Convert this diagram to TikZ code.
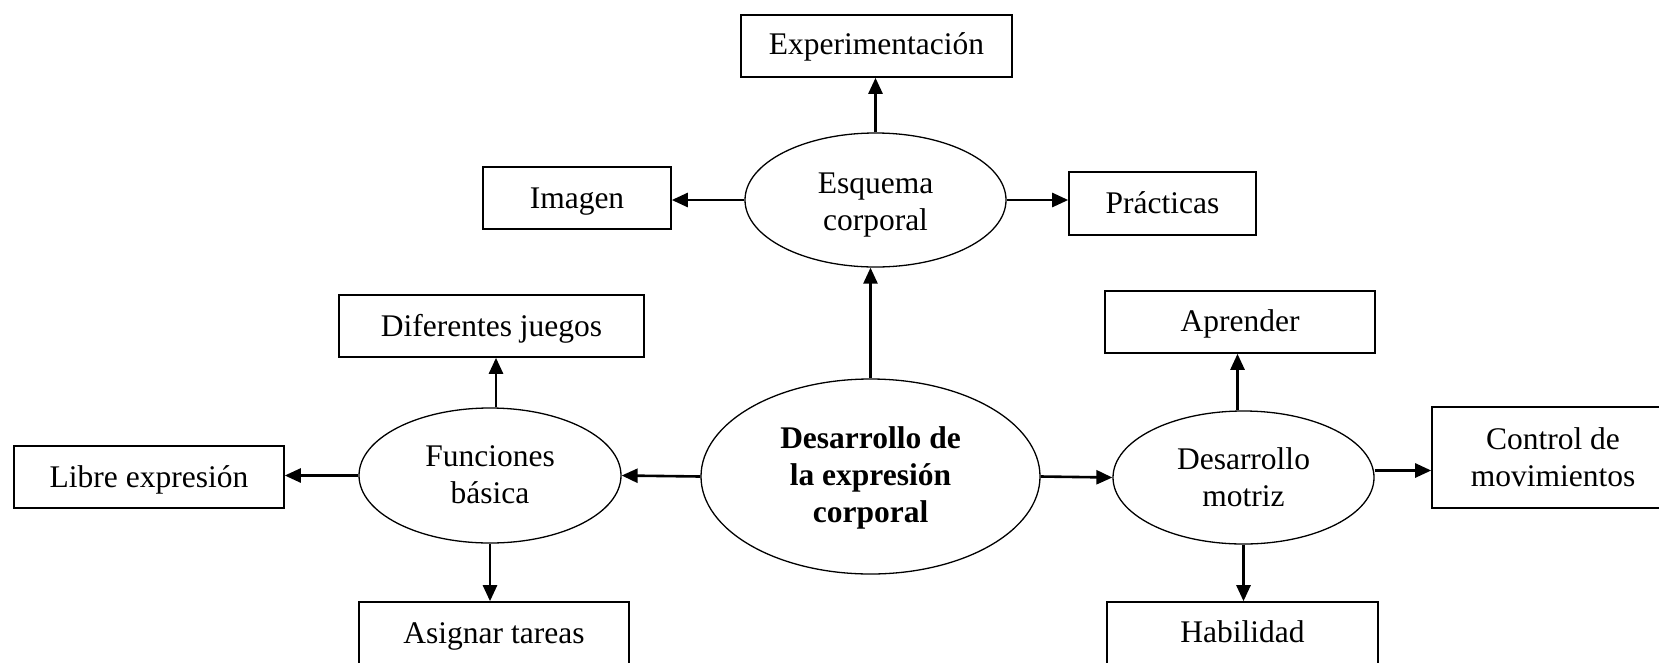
\documentclass[tikz,border=0pt]{standalone}
\usepackage{fontspec}
\setmainfont{Liberation Serif}
\usetikzlibrary{shapes.geometric,arrows.meta}
\newcommand\dn[2][3pt]{\raisebox{-#1}[\height][\depth]{\begin{tabular}{@{}c@{}}#2\end{tabular}}}
\begin{document}
\begin{tikzpicture}[x=1pt,y=-1pt,
  txt/.style={font=\fontsize{31.5}{37}\selectfont, align=center, inner sep=0pt},
  box/.style={txt, draw, line width=1.6pt, rectangle, minimum height=62pt},
  oval/.style={txt, draw, line width=1.3pt, ellipse},
  arr/.style={line width=2.6pt, -{Triangle[length=16pt,width=14pt]}}]
\useasboundingbox (0,0) rectangle (1659,662);
\begin{scope}
\clip (0,0) rectangle (1659,662);
% nodes
\node[box, minimum width=271pt] (exp) at (876.5,46) {\dn[1pt]{Experimentación}};
\node[oval, minimum width=261pt, minimum height=134pt] (esq) at (875.5,200) {\dn[5pt]{Esquema\\corporal}};
\node[box, minimum width=188pt] (img) at (577,198) {\dn{Imagen}};
\node[box, minimum width=187pt, minimum height=63pt] (prac) at (1162.5,203.5) {\dn[3pt]{Prácticas}};
\node[box, minimum width=305pt] (dif) at (491.5,326) {\dn{Diferentes juegos}};
\node[oval, minimum width=262pt, minimum height=135pt] (fun) at (490,475.5) {\dn[2pt]{Funciones\\básica}};
\node[box, minimum width=270pt] (lib) at (149,477) {\dn{Libre expresión}};
\node[box, minimum width=270pt] (asig) at (494,633) {\dn{Asignar tareas}};
\node[oval, minimum width=339pt, minimum height=195pt, font=\fontsize{31.5}{37}\selectfont\bfseries] (cen) at (870.5,476.5) {\dn[2pt]{Desarrollo de\\la expresión\\corporal}};
\node[oval, minimum width=261pt, minimum height=133pt] (mot) at (1243.5,477.5) {\dn[3pt]{Desarrollo\\motriz}};
\node[box, minimum width=270pt] (apr) at (1240,322) {\dn[2pt]{Aprender}};
\node[box, minimum width=242pt, minimum height=101pt] (ctl) at (1553,457.5) {\dn[3pt]{Control de\\movimientos}};
\node[box, minimum width=271pt] (hab) at (1242.5,633) {\dn[2pt]{Habilidad}};
% connectors
\draw[arr] (esq.north) -- (esq.north |- exp.south);
\draw[arr] (esq.west) -- (esq.west -| img.east);
\draw[arr] (esq.east) -- (esq.east -| prac.west);
\draw[arr] (cen.north) -- (cen.north |- esq.south);
\draw[arr] ([xshift=6pt]fun.north) -- ([xshift=6pt]fun.north |- dif.south);
\draw[arr] (fun.west) -- (fun.west -| lib.east);
\draw[arr] (fun.south) -- (fun.south |- asig.north);
\draw[arr] (cen.west) -- (fun.east);
\draw[arr] (cen.east) -- (mot.west);
\draw[arr] ([xshift=-6pt]mot.north) -- ([xshift=-6pt]mot.north |- apr.south);
\draw[arr] ([yshift=7pt]mot.east) -- ([yshift=7pt]mot.east -| ctl.west);
\draw[arr] (mot.south) -- (mot.south |- hab.north);
\end{scope}
\end{tikzpicture}
\end{document}
